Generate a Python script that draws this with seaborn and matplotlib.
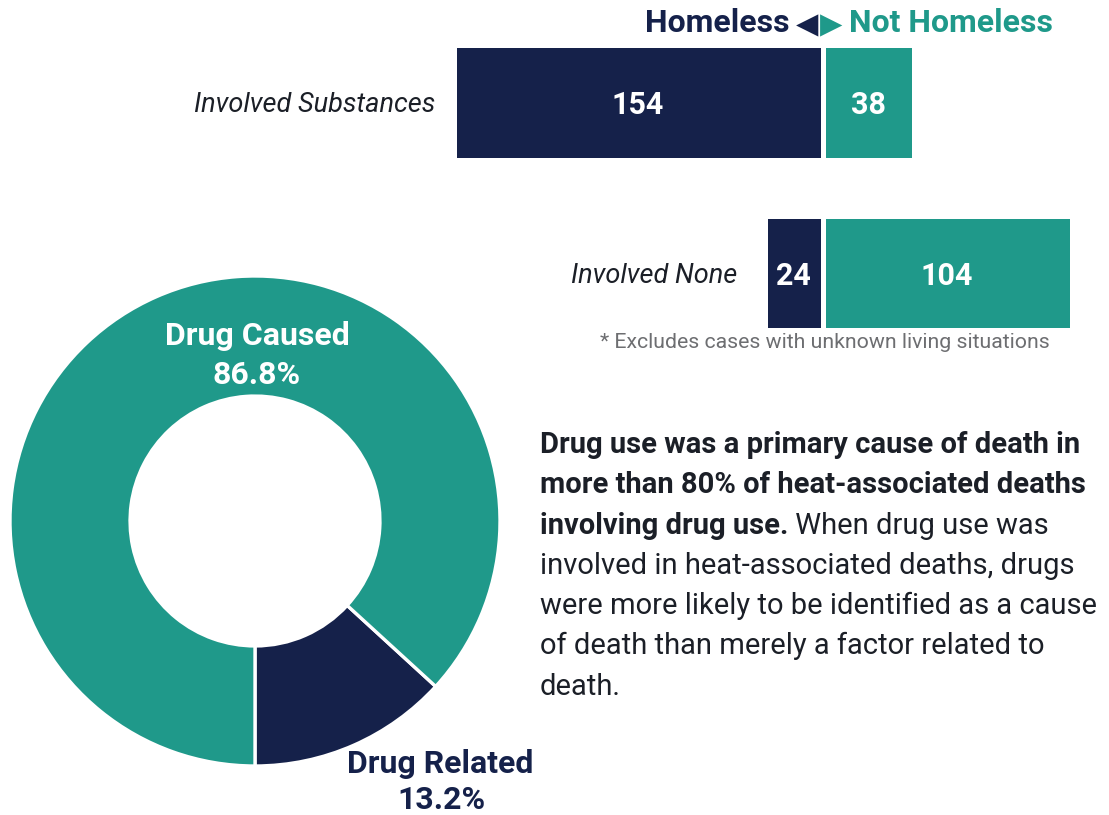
import matplotlib
matplotlib.use("Agg")
import matplotlib.pyplot as plt
import numpy as np
import pandas as pd
import seaborn as sns

# ---- data ----
categories = ["Involved Substances", "Involved None"]
homeless = [154, 24]
not_homeless = [38, 104]
donut_labels = ["Drug Related", "Drug Caused"]
donut_pct = [13.2, 86.8]
header_left = "Homeless"
header_right = "Not Homeless"
footnote = "* Excludes cases with unknown living situations"
body_bold = ["Drug use was a primary cause of death in",
             "more than 80% of heat-associated deaths",
             "involving drug use."]
body_regular = [" When drug use was",
                "involved in heat-associated deaths, drugs",
                "were more likely to be identified as a cause",
                "of death than merely a factor related to",
                "death."]

# ---- style ----
NAVY = "#15214a"
TEAL = "#1f998a"
INK = "#1b1f27"
GREY = "#6d6e71"

sns.set_theme(style="white")
plt.rcParams["font.family"] = ["Roboto", "DejaVu Sans"]

W, H = 1109, 815
fig = plt.figure(figsize=(W / 100, H / 100), dpi=100)
fig.patch.set_facecolor("white")


def fx(x):
    return x / W


def fy(y):
    return 1 - y / H


def px_axes(x0, y0, x1, y1):
    return fig.add_axes([fx(x0), fy(y1), (x1 - x0) / W, (y1 - y0) / H])


# ---- diverging bars ----
center_px, scale_px = 822.5, 2.396
xmin, xmax = -170, 115
row0, row_step = 102.5, 170.5
ax = px_axes(center_px + xmin * scale_px, row0 - row_step / 2,
             center_px + xmax * scale_px, row0 + row_step * 1.5)

df = pd.DataFrame({"category": categories,
                   "homeless": [-v for v in homeless],
                   "not_homeless": not_homeless})
bar_kw = dict(orient="h", saturation=1, width=0.669,
              edgecolor="white", linewidth=3.6, ax=ax)
sns.barplot(data=df, x="homeless", y="category", color=NAVY, **bar_kw)
sns.barplot(data=df, x="not_homeless", y="category", color=TEAL, **bar_kw)
ax.set_xlim(xmin, xmax)
ax.set_ylim(1.5, -0.5)
ax.axis("off")

for i, (h, n) in enumerate(zip(homeless, not_homeless)):
    ax.text(-h / 2, i, str(h), ha="center", va="center_baseline",
            color="white", fontsize=22, fontweight="bold")
    ax.text(n / 2, i, str(n), ha="center", va="center_baseline",
            color="white", fontsize=22, fontweight="bold")

label_pad = [18, 28]
for i, (cat, h) in enumerate(zip(categories, homeless)):
    ax.annotate(cat, xy=(-h, i), xytext=(-label_pad[i], 0),
                textcoords="offset pixels", ha="right", va="center_baseline",
                fontsize=19.5, fontstyle="italic", color=INK)

# header: labels with pointing triangles either side of the divider
fig.text(fx(790), fy(32), header_left, ha="right", va="baseline",
         fontsize=23, fontweight="bold", color=NAVY)
fig.text(fx(818), fy(25), "\u25C0", ha="right", va="center",
         fontsize=21, color=NAVY, family="DejaVu Sans")
fig.text(fx(820), fy(25), "\u25B6", ha="left", va="center",
         fontsize=21, color=TEAL, family="DejaVu Sans")
fig.text(fx(849), fy(32), header_right, ha="left", va="baseline",
         fontsize=23, fontweight="bold", color=TEAL)

fig.text(fx(825), fy(341), footnote, ha="center", va="center_baseline",
         fontsize=15.3, color=GREY)

# ---- donut ----
cx, cy, r_px = 255, 521, 245
half = 252
pax = px_axes(cx - half, cy - half, cx + half, cy + half)
pax.pie(donut_pct, colors=[NAVY, TEAL], startangle=270, counterclock=True,
        radius=1, wedgeprops=dict(width=0.49, edgecolor="white", linewidth=2.4))
lim = half / r_px
pax.set_xlim(-lim, lim)
pax.set_ylim(-lim, lim)
pax.axis("off")


def pd_xy(x, y):
    return ((x - cx) / r_px, (cy - y) / r_px)


label_pos = {"Drug Caused": [(257, 333), (257, 372)],
             "Drug Related": [(440, 761), (441, 797)]}
label_col = {"Drug Caused": "white", "Drug Related": NAVY}
for name, pct in zip(donut_labels, donut_pct):
    (x1, y1), (x2, y2) = label_pos[name]
    pax.text(*pd_xy(x1, y1), name, ha="center", va="center_baseline",
             fontsize=23, fontweight="bold", color=label_col[name], clip_on=False)
    pax.text(*pd_xy(x2, y2), f"{pct:.1f}%", ha="center", va="center_baseline",
             fontsize=23, fontweight="bold", color=label_col[name], clip_on=False)

# ---- paragraph ----
tx, base0, step = 540, 453, 40.3
body_size = 21
lines = []
for j, s in enumerate(body_bold):
    t = fig.text(fx(tx), fy(base0 + j * step), s, ha="left", va="baseline",
                 fontsize=body_size, fontweight="bold", color=INK)
    lines.append(t)
fig.canvas.draw()
renderer = fig.canvas.get_renderer()
last = lines[-1].get_window_extent(renderer)
x_after = last.x1
row = len(body_bold) - 1
fig.text(x_after / W, fy(base0 + row * step), body_regular[0], ha="left",
         va="baseline", fontsize=body_size, color=INK)
for k, s in enumerate(body_regular[1:], start=1):
    fig.text(fx(tx), fy(base0 + (row + k) * step), s, ha="left", va="baseline",
             fontsize=body_size, color=INK)

fig.savefig("out.png", dpi=100, facecolor="white")
